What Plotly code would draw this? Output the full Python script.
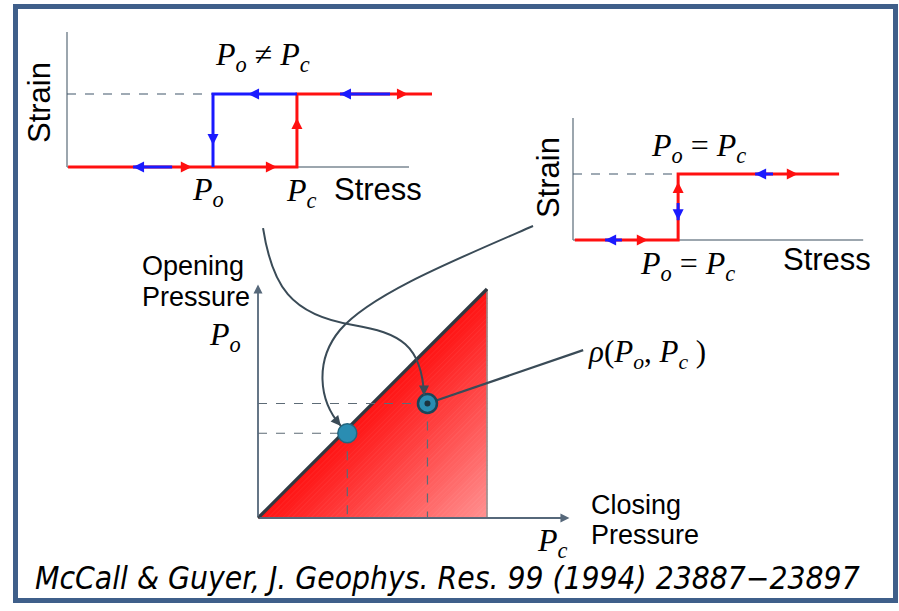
import plotly.graph_objects as go

W, H = 899, 611

# ---------------- data ----------------
# Top-left loop: Po != Pc  (stress units, strain units)
tl_po = 4.0
tl_pc = 6.3
tl_stress_start = 0.03
tl_stress_max = 10.0
tl_axis_stress = 9.37
axis_strain = 1.85
strain_high = 1.0
tl_arrow_stress = [1.81, 3.42, 5.75, 6.3, 4.0, 4.96, 7.48, 9.34]
tl_arrow_strain = [0.0, 0.0, 0.0, 0.67, 0.30, 1.0, 1.0, 1.0]
tl_arrow_dir = ["left", "right", "right", "up", "down", "left", "left", "right"]
tl_shaft_from = [1.81, 7.48]
tl_shaft_to = [2.88, 8.85]
tl_shaft_strain = [0.0, 1.0]

# Top-right loop: Po = Pc
tr_p = 2.88
tr_stress_start = 0.05
tr_stress_max = 7.29
tr_axis_stress = 7.95
tr_arrow_stress = [0.88, 2.05, 2.88, 2.88, 4.99, 6.16]
tr_arrow_strain = [0.0, 0.0, 0.88, 0.30, 1.0, 1.0]
tr_arrow_dir = ["left", "right", "up", "down", "left", "right"]
tr_shaft_from = [0.88, 4.99]
tr_shaft_to = [1.34, 5.48]
tr_shaft_strain = [0.0, 1.0]
tr_vshaft_strain = [0.30, 0.56]

# Main Preisach plane (Pc, Po)
pc_max = 1.0
pc_axis_end = 1.36
po_axis_end = 1.02
dot_pc = [0.39, 0.74]
dot_po = [0.37, 0.50]
rho_label_pc = 1.42
rho_label_po = 0.733

# connector curves (main-plane units)
curve1 = [(0.022, 1.266), (0.061, 1.017), (0.140, 0.886), (0.415, 0.843),
          (0.620, 0.808), (0.716, 0.755), (0.725, 0.535)]
curve2 = [(1.201, 1.275), (0.838, 1.118), (0.489, 0.974), (0.358, 0.821),
          (0.249, 0.690), (0.262, 0.515), (0.362, 0.402)]

# ---------------- styling helpers ----------------
RED = "#ff1010"
BLUE = "#1a1aff"
AXIS = "#7b8893"
DASH = "#40566a"
DARK = "#3a4b57"
SANS = "Arial, Liberation Sans, sans-serif"
SERIF = "Liberation Serif, Times New Roman, serif"


def xr(ox, s):
    return [(0 - ox) / s, (W - ox) / s]


def yr(oy, s):
    return [(oy - H) / s, oy / s]


fig = go.Figure()

# ---- top-left (xaxis / yaxis) ----
TL = dict(xaxis="x", yaxis="y")
fig.add_trace(go.Scatter(x=[0, tl_axis_stress], y=[0, 0], mode="lines",
                         line=dict(color=AXIS, width=1.5), **TL))
fig.add_trace(go.Scatter(x=[0, 0], y=[0, axis_strain], mode="lines",
                         line=dict(color=AXIS, width=1.5), **TL))
fig.add_trace(go.Scatter(x=[0, tl_po], y=[strain_high, strain_high], mode="lines",
                         line=dict(color=DASH, width=1.2, dash="dash"), **TL))
fig.add_trace(go.Scatter(x=[tl_stress_start, tl_pc, tl_pc, tl_stress_max],
                         y=[0, 0, strain_high, strain_high], mode="lines",
                         line=dict(color=RED, width=3), **TL))
fig.add_trace(go.Scatter(x=[tl_pc, tl_po, tl_po], y=[strain_high, strain_high, 0],
                         mode="lines", line=dict(color=BLUE, width=3), **TL))
for a, b, s in zip(tl_shaft_from, tl_shaft_to, tl_shaft_strain):
    fig.add_trace(go.Scatter(x=[a, b], y=[s, s], mode="lines",
                             line=dict(color=BLUE, width=3), **TL))

sym = {"left": "arrow-left", "right": "arrow-right", "up": "arrow-up", "down": "arrow-down"}
col = {"left": BLUE, "down": BLUE, "right": RED, "up": RED}

fig.add_trace(go.Scatter(x=tl_arrow_stress, y=tl_arrow_strain, mode="markers",
                         marker=dict(symbol=[sym[d] for d in tl_arrow_dir],
                                     color=[col[d] for d in tl_arrow_dir], size=11),
                         cliponaxis=False, **TL))

# ---- top-right (xaxis2 / yaxis2) ----
TR = dict(xaxis="x2", yaxis="y2")
fig.add_trace(go.Scatter(x=[0, tr_axis_stress], y=[0, 0], mode="lines",
                         line=dict(color=AXIS, width=1.5), **TR))
fig.add_trace(go.Scatter(x=[0, 0], y=[0, axis_strain], mode="lines",
                         line=dict(color=AXIS, width=1.5), **TR))
fig.add_trace(go.Scatter(x=[0, tr_p], y=[strain_high, strain_high], mode="lines",
                         line=dict(color=DASH, width=1.2, dash="dash"), **TR))
fig.add_trace(go.Scatter(x=[tr_stress_start, tr_p, tr_p, tr_stress_max],
                         y=[0, 0, strain_high, strain_high], mode="lines",
                         line=dict(color=RED, width=3), **TR))
for a, b, s in zip(tr_shaft_from, tr_shaft_to, tr_shaft_strain):
    fig.add_trace(go.Scatter(x=[a, b], y=[s, s], mode="lines",
                             line=dict(color=BLUE, width=3), **TR))
fig.add_trace(go.Scatter(x=[tr_p, tr_p], y=tr_vshaft_strain, mode="lines",
                         line=dict(color=BLUE, width=3), **TR))
fig.add_trace(go.Scatter(x=tr_arrow_stress, y=tr_arrow_strain, mode="markers",
                         marker=dict(symbol=[sym[d] for d in tr_arrow_dir],
                                     color=[col[d] for d in tr_arrow_dir], size=11),
                         cliponaxis=False, **TR))

# ---- main plane (xaxis3 / yaxis3) ----
M = dict(xaxis="x3", yaxis="y3")
N = 48
c0 = (255, 18, 18)
c1 = (255, 145, 145)
for i in range(N):
    d0 = pc_max * i / N
    d1 = pc_max * (i + 1) / N
    t = (i + 0.5) / N
    c = tuple(round(c0[k] + (c1[k] - c0[k]) * t) for k in range(3))
    cs = "rgb(%d,%d,%d)" % c
    fig.add_trace(go.Scatter(x=[d0, d1, pc_max, pc_max, d0],
                             y=[0, 0, pc_max - d1, pc_max - d0, 0],
                             mode="lines", fill="toself", fillcolor=cs,
                             line=dict(color=cs, width=0.8), **M))
# right edge and hypotenuse
fig.add_trace(go.Scatter(x=[pc_max, pc_max], y=[0, pc_max], mode="lines",
                         line=dict(color="#909090", width=1.5), **M))
fig.add_trace(go.Scatter(x=[0, pc_max], y=[0, pc_max], mode="lines",
                         line=dict(color="#303a42", width=3.2), **M))
# dashed guides
for pc, po in zip(dot_pc, dot_po):
    fig.add_trace(go.Scatter(x=[0, pc], y=[po, po], mode="lines",
                             line=dict(color="#5d6b76", width=1.2, dash="dash"), **M))
    fig.add_trace(go.Scatter(x=[pc, pc], y=[po, 0], mode="lines",
                             line=dict(color="#5d6b76", width=1.2, dash="dash"), **M))
# pointer to rho label
fig.add_trace(go.Scatter(x=[dot_pc[1], rho_label_pc], y=[dot_po[1], rho_label_po],
                         mode="lines", line=dict(color=DARK, width=2.2), **M))
# dots
fig.add_trace(go.Scatter(x=dot_pc, y=dot_po, mode="markers",
                         marker=dict(size=19, color="#2a8db2",
                                     line=dict(color=["#23667f", "#1b4658"], width=[1.5, 2.5])),
                         cliponaxis=False, **M))
fig.add_trace(go.Scatter(x=[dot_pc[1]], y=[dot_po[1]], mode="markers",
                         marker=dict(size=6, color="#1b3440"), cliponaxis=False, **M))


def bez_path(pts):
    p = "M%.4f,%.4f" % pts[0]
    for j in range(1, len(pts), 3):
        p += " C%.4f,%.4f %.4f,%.4f %.4f,%.4f" % (pts[j] + pts[j + 1] + pts[j + 2])
    return p


shapes = [
    dict(type="path", path=bez_path(curve1), xref="x3", yref="y3",
         line=dict(color=DARK, width=2)),
    dict(type="path", path=bez_path(curve2), xref="x3", yref="y3",
         line=dict(color=DARK, width=2)),
    dict(type="rect", xref="paper", yref="paper", x0=15.5 / W, x1=895.5 / W,
         y0=1 - 600.5 / H, y1=1 - 6.5 / H, line=dict(color="#3f5f8a", width=5)),
]

annotations = []
# main axes with arrows
annotations.append(dict(x=pc_axis_end, y=0, ax=0, ay=0, xref="x3", yref="y3",
                        axref="x3", ayref="y3", text="", showarrow=True,
                        arrowhead=2, arrowsize=1, arrowwidth=1.8, arrowcolor="#56687a"))
annotations.append(dict(x=0, y=po_axis_end, ax=0, ay=0, xref="x3", yref="y3",
                        axref="x3", ayref="y3", text="", showarrow=True,
                        arrowhead=2, arrowsize=1, arrowwidth=1.8, arrowcolor="#56687a"))
# curve arrowheads
annotations.append(dict(x=curve1[-1][0], y=curve1[-1][1], ax=0, ay=-9,
                        xref="x3", yref="y3", text="", showarrow=True,
                        arrowhead=2, arrowsize=1, arrowwidth=2, arrowcolor=DARK))
annotations.append(dict(x=curve2[-1][0], y=curve2[-1][1], ax=-6, ay=-7,
                        xref="x3", yref="y3", text="", showarrow=True,
                        arrowhead=2, arrowsize=1, arrowwidth=2, arrowcolor=DARK))


def lab(x, y, text, size, family=SANS, xanchor="center", angle=0, style="normal",
        color="#000000"):
    annotations.append(dict(x=x / W, y=1 - y / H, xref="paper", yref="paper",
                            text=text, showarrow=False, xanchor=xanchor,
                            yanchor="middle", textangle=angle,
                            font=dict(size=size, family=family, color=color, style=style)))


PO = "<i>P</i><sub><i>o</i></sub>"
PC = "<i>P</i><sub><i>c</i></sub>"

lab(40, 103, "Strain", 31, angle=-90)
lab(332, 190, "Stress", 31, xanchor="left")
lab(262, 56, PO + " ≠ " + PC, 32, SERIF)
lab(208, 191, PO, 32, SERIF)
lab(301, 192, PC, 32, SERIF)

lab(548, 178, "Strain", 31, angle=-90)
lab(827, 260, "Stress", 31)
lab(698, 148, PO + " = " + PC, 32, SERIF)
lab(687, 265, PO + " = " + PC, 32, SERIF)

lab(140, 266, "Opening", 27, xanchor="left")
lab(140, 297, "Pressure", 27, xanchor="left")
lab(225, 336, PO, 32, SERIF)
lab(552, 542, PC, 32, SERIF)
lab(589, 505, "Closing", 27, xanchor="left")
lab(589, 535, "Pressure", 27, xanchor="left")
lab(586, 354, "<i>ρ</i>(" + PO + ", " + PC + " )", 31, SERIF, xanchor="left")

lab(33, 578, "McCall &amp; Guyer, J. Geophys. Res. 99 (1994) 23887−23897", 31.5,
    "Liberation Sans Narrow, DejaVu Sans Condensed, Arial Narrow, sans-serif",
    xanchor="left", style="italic")

ax_common = dict(visible=False, domain=[0, 1], fixedrange=True)
fig.update_layout(
    width=W, height=H, margin=dict(l=0, r=0, t=0, b=0),
    paper_bgcolor="white", plot_bgcolor="rgba(0,0,0,0)", showlegend=False,
    xaxis=dict(range=xr(67, 36.5), anchor="y", **ax_common),
    yaxis=dict(range=yr(167, 73), anchor="x", **ax_common),
    xaxis2=dict(range=xr(573, 36.5), anchor="y2", **ax_common),
    yaxis2=dict(range=yr(240, 66), anchor="x2", **ax_common),
    xaxis3=dict(range=xr(258, 229), anchor="y3", **ax_common),
    yaxis3=dict(range=yr(518, 229), anchor="x3", **ax_common),
    shapes=shapes, annotations=annotations,
)

fig.write_html("out.html", config={"displayModeBar": False},
               post_script="document.body.style.margin='0';")
